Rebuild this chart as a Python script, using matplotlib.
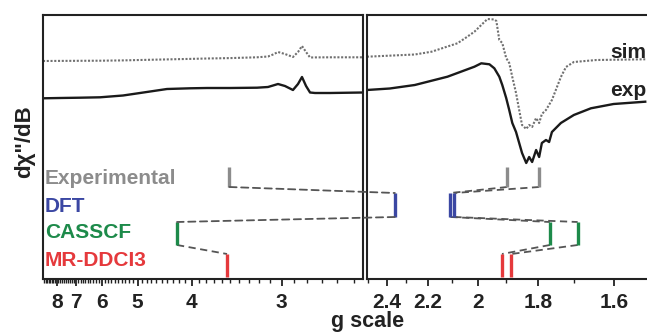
import numpy as np
import matplotlib
matplotlib.use("Agg")
import matplotlib.pyplot as plt
from matplotlib.patches import ConnectionPatch
from matplotlib.transforms import blended_transform_factory

plt.rcParams['font.family'] = ['Liberation Sans', 'DejaVu Sans']
plt.rcParams['font.weight'] = 'bold'

# spectra, low-field part (g, intensity a.u.)
g_left = [8.904, 7.809, 6.823, 6.057, 5.365, 4.947, 4.403, 4.025, 3.785, 3.503,
          3.221, 3.119, 3.074, 3.031, 2.973, 2.909, 2.870, 2.840, 2.810, 2.781,
          2.746, 2.645, 2.447]
exp_left = [179.7, 180.0, 180.3, 180.7, 182.5, 185.0, 189.0, 189.7, 190.0, 190.0,
            190.3, 191.0, 192.5, 194.0, 192.0, 188.0, 194.0, 201.0, 192.0, 185.5,
            185.0, 185.0, 185.5]
sim_left = [217.0, 217.1, 217.2, 217.3, 217.6, 218.0, 218.6, 219.1, 219.5, 219.9,
            220.7, 221.5, 223.5, 226.0, 224.0, 221.0, 226.0, 232.0, 226.0, 220.5,
            220.6, 220.7, 220.7]

# spectra, g ~ 2 region
g_sim_right = [2.508, 2.260, 2.184, 2.117, 2.077, 2.046, 2.012, 1.987, 1.965, 1.941,
               1.934, 1.924, 1.914, 1.901, 1.891, 1.881, 1.869, 1.859, 1.850, 1.837,
               1.828, 1.819, 1.807, 1.798, 1.790, 1.778, 1.761, 1.736, 1.722, 1.701,
               1.643, 1.531]
sim_right = [221.3, 223.5, 226.3, 231.5, 234.7, 240.0, 246.3, 253.0, 259.0, 258.5,
             257.0, 238.0, 235.0, 220.0, 215.0, 201.0, 185.0, 168.0, 153.0, 149.0,
             153.0, 151.0, 160.0, 155.0, 164.0, 168.0, 178.0, 201.0, 211.0, 216.0,
             218.0, 218.7]
g_exp_right = [2.508, 2.383, 2.260, 2.117, 2.012, 1.987, 1.958, 1.941, 1.924, 1.914,
               1.901, 1.891, 1.881, 1.869, 1.859, 1.850, 1.837, 1.828, 1.819, 1.807,
               1.798, 1.790, 1.778, 1.769, 1.761, 1.736, 1.701, 1.657, 1.602, 1.531]
exp_right = [188.0, 189.5, 193.0, 201.3, 211.3, 214.7, 213.7, 209.7, 201.3, 193.0,
             180.0, 168.0, 155.0, 146.0, 135.0, 125.0, 115.0, 121.0, 116.0, 128.0,
             121.0, 135.0, 138.0, 136.0, 146.0, 155.0, 163.0, 169.7, 174.0, 176.3]

# calculated / experimental g values (g1, g2, g3)
methods = ['Experimental', 'DFT', 'CASSCF', 'MR-DDCI3']
g_values = [
    [3.51, 1.898, 1.798],
    [2.357, 2.105, 2.089],
    [4.23, 1.767, 1.691],
    [3.537, 1.915, 1.884],
]
stick_top = [111, 85, 56, 24]
stick_bottom = [91, 61, 33, 1]
label_y = [99, 71, 45, 17]
colors = ['#8c8c8c', '#3b47a3', '#1d8a4a', '#e5393c']

left_major = [8, 7, 6, 5, 4, 3]
right_major = [2.4, 2.2, 2.0, 1.8, 1.6]
right_labels = ['2.4', '2.2', '2', '1.8', '1.6']

W, H = 647, 334
fig = plt.figure(figsize=(W / 100, H / 100), dpi=100)
ax1 = fig.add_axes([43.3 / W, 55 / H, 319.7 / W, 264 / H])
ax2 = fig.add_axes([367 / W, 55 / H, 293 / W, 264 / H])

ax1.set_xlim(0.11259, 0.40861)
ax2.set_xlim(0.39879, 0.66515)
for ax in (ax1, ax2):
    ax.set_ylim(-1, 263)
    ax.set_yticks([])
    for s in ax.spines.values():
        s.set_linewidth(1.5)
        s.set_color('#222222')
    ax.tick_params(axis='x', which='major', direction='out', length=5, width=1.3,
                   pad=5, labelsize=15, colors='#222222')
    ax.tick_params(axis='x', which='minor', direction='out', length=3, width=1.0,
                   colors='#222222')


def inv(g):
    return 1.0 / np.asarray(g, dtype=float)


ax1.set_xticks(inv(left_major))
ax1.set_xticklabels([str(v) for v in left_major])
minor_left = [g / 10 for g in range(25, 89) if g % 10 != 0]
ax1.set_xticks(inv(minor_left), minor=True)

ax2.set_xticks(inv(right_major))
ax2.set_xticklabels(right_labels)
ax2.set_xticks(inv([2.5, 2.3, 2.1, 1.9, 1.7, 1.5]), minor=True)

# spectra
ax1.plot(inv(g_left), exp_left, color='#1a1a1a', lw=1.7)
ax1.plot(inv(g_left), sim_left, color='#707070', lw=1.5, ls=(0, (1, 0.8)))
ax2.plot(inv(g_exp_right), exp_right, color='#1a1a1a', lw=1.7)
ax2.plot(inv(g_sim_right), sim_right, color='#707070', lw=1.5, ls=(0, (1, 0.8)))

fig.text(646 / W, 1 - 53 / H, 'sim', ha='right', va='center', fontsize=15,
         color='#222222')
fig.text(646 / W, 1 - 90 / H, 'exp', ha='right', va='center', fontsize=15,
         color='#222222')


def axis_for(g):
    return ax1 if g > 2.45 else ax2


# sticks
label_tr = blended_transform_factory(fig.transFigure, ax1.transData)
for k, name in enumerate(methods):
    ax1.text(45 / W, label_y[k], name, transform=label_tr, ha='left',
             va='center', fontsize=15, color=colors[k])
    for g in g_values[k]:
        axis_for(g).plot([1 / g, 1 / g], [stick_bottom[k], stick_top[k]],
                         color=colors[k], lw=2.4, solid_capstyle='butt', zorder=4)

# dashed connectors between methods
for k in range(len(methods) - 1):
    for i in range(3):
        ga, gb = g_values[k][i], g_values[k + 1][i]
        axa, axb = axis_for(ga), axis_for(gb)
        pa = (1 / ga, stick_bottom[k])
        pb = (1 / gb, stick_top[k + 1])
        if axa is axb:
            axa.plot([pa[0], pb[0]], [pa[1], pb[1]], color='#555555', lw=1.3,
                     dashes=(4, 2.5), zorder=3)
        else:
            con = ConnectionPatch(xyA=pa, coordsA=axa.transData, xyB=pb,
                                  coordsB=axb.transData, color='#555555', lw=1.3,
                                  linestyle=(0, (4, 2.5)), zorder=3)
            fig.add_artist(con)

fig.text(25 / W, 1 - 142 / H, 'dχ"/dB', rotation=90, ha='center', va='center',
         fontsize=16, color='#222222')
fig.text(368 / W, 1 - 322 / H, 'g scale', ha='center', va='center',
         fontsize=15.5, color='#222222')

fig.savefig('out.png', dpi=100)
